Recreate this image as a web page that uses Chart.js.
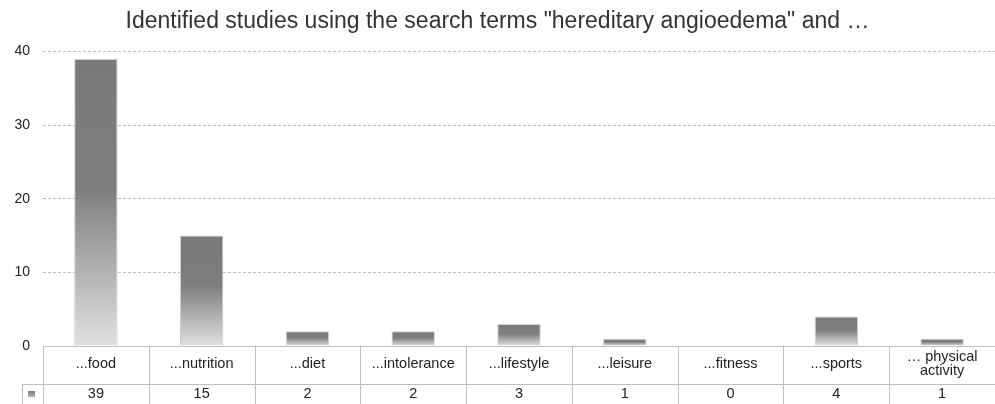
<!DOCTYPE html>
<html>
<head>
<meta charset="utf-8">
<script src="https://cdn.jsdelivr.net/npm/chart.js@4/dist/chart.umd.min.js"></script>
<style>
  html, body { margin: 0; padding: 0; background: #ffffff; }
  #wrap { width: 995px; height: 404px; position: relative; }
</style>
</head>
<body>
<div id="wrap"><canvas id="c"></canvas></div>
<script>
const titleText = 'Identified studies using the search terms "hereditary angioedema" and …';
const categories = ['...food', '...nutrition', '...diet', '...intolerance', '...lifestyle', '...leisure', '...fitness', '...sports', ['… physical', 'activity']];
const studies = [39, 15, 2, 2, 3, 1, 0, 4, 1];
const yTicks = [0, 10, 20, 30, 40];

const FONT = "'Liberation Sans', Arial, Helvetica, sans-serif";
const LINE = '#bfbfbf';

function barGradient(ctx) {
  const chart = ctx.chart;
  if (!chart.chartArea || ctx.type !== 'data') return '#7d7c7f';
  const ys = chart.scales.y;
  const top = ys.getPixelForValue(ctx.raw);
  const bot = ys.getPixelForValue(0);
  if (bot - top < 1) return '#7d7c7f';
  const g = chart.ctx.createLinearGradient(0, top, 0, bot);
  g.addColorStop(0, '#7a797c');
  g.addColorStop(0.45, '#7e7d80');
  g.addColorStop(1, '#e1e1e3');
  return g;
}

const tablePlugin = {
  id: 'dataTable',
  afterDraw(chart) {
    const c = chart.ctx;
    const xs = chart.scales.x;
    const area = chart.chartArea;
    const n = categories.length;
    const w = (area.right - area.left) / n;
    const top = area.bottom;
    const mid = top + 38;
    const bottom = chart.height;
    c.save();
    c.strokeStyle = LINE;
    c.lineWidth = 1;
    c.beginPath();
    c.moveTo(area.left, top + 0.5); c.lineTo(area.right, top + 0.5);
    c.moveTo(22, mid + 0.5); c.lineTo(area.right, mid + 0.5);
    c.moveTo(22.5, mid); c.lineTo(22.5, bottom);
    for (let i = 0; i <= n; i++) {
      const x = Math.round(area.left + i * w) + 0.5;
      c.moveTo(x, top); c.lineTo(x, bottom);
    }
    c.stroke();
    const lg = c.createLinearGradient(0, 391, 0, 397);
    lg.addColorStop(0, '#7b7a7d');
    lg.addColorStop(1, '#b5b5b7');
    c.fillStyle = lg;
    c.fillRect(28, 391, 7, 6);
    c.fillStyle = '#222';
    c.font = '14.5px ' + FONT;
    c.textAlign = 'center';
    c.textBaseline = 'middle';
    for (let i = 0; i < n; i++) {
      const cx = xs.getPixelForValue(i);
      const lab = categories[i];
      if (Array.isArray(lab)) {
        c.fillText(lab[0], cx, top + 11);
        c.fillText(lab[1], cx, top + 25);
      } else {
        c.fillText(lab, cx, top + 18);
      }
      c.fillText(String(studies[i]), cx, mid + 10);
    }
    c.restore();
  }
};

new Chart(document.getElementById('c'), {
  type: 'bar',
  data: {
    labels: categories,
    datasets: [{
      label: 'Studies',
      data: studies,
      backgroundColor: barGradient,
      borderColor: 'rgba(200,200,203,0.9)',
      borderWidth: 1,
      barPercentage: 0.41,
      categoryPercentage: 1.0
    }]
  },
  options: {
    responsive: true,
    maintainAspectRatio: false,
    animation: false,
    devicePixelRatio: 1,
    layout: { padding: { left: 0, right: 0, top: 0, bottom: 58 } },
    plugins: {
      legend: { display: false },
      tooltip: { enabled: false },
      title: {
        display: true,
        text: titleText,
        color: '#333',
        font: { family: FONT, size: 23, weight: 'normal' },
        padding: { top: 8, bottom: 16 }
      }
    },
    scales: {
      x: {
        offset: true,
        ticks: { display: false },
        grid: { display: false, drawTicks: false },
        border: { display: false }
      },
      y: {
        min: 0,
        max: 40,
        afterBuildTicks(scale) { scale.ticks = yTicks.map(v => ({ value: v })); },
        afterFit(scale) { scale.width = 43; },
        ticks: {
          color: '#222',
          padding: 13,
          font: { family: FONT, size: 14 }
        },
        grid: {
          color: (ctx) => ctx.tick && ctx.tick.value === 0 ? 'rgba(0,0,0,0)' : '#bdbdbd',
          drawTicks: false,
          lineWidth: 1
        },
        border: { display: false, dash: [3, 2] }
      }
    }
  },
  plugins: [tablePlugin]
});
</script>
</body>
</html>
